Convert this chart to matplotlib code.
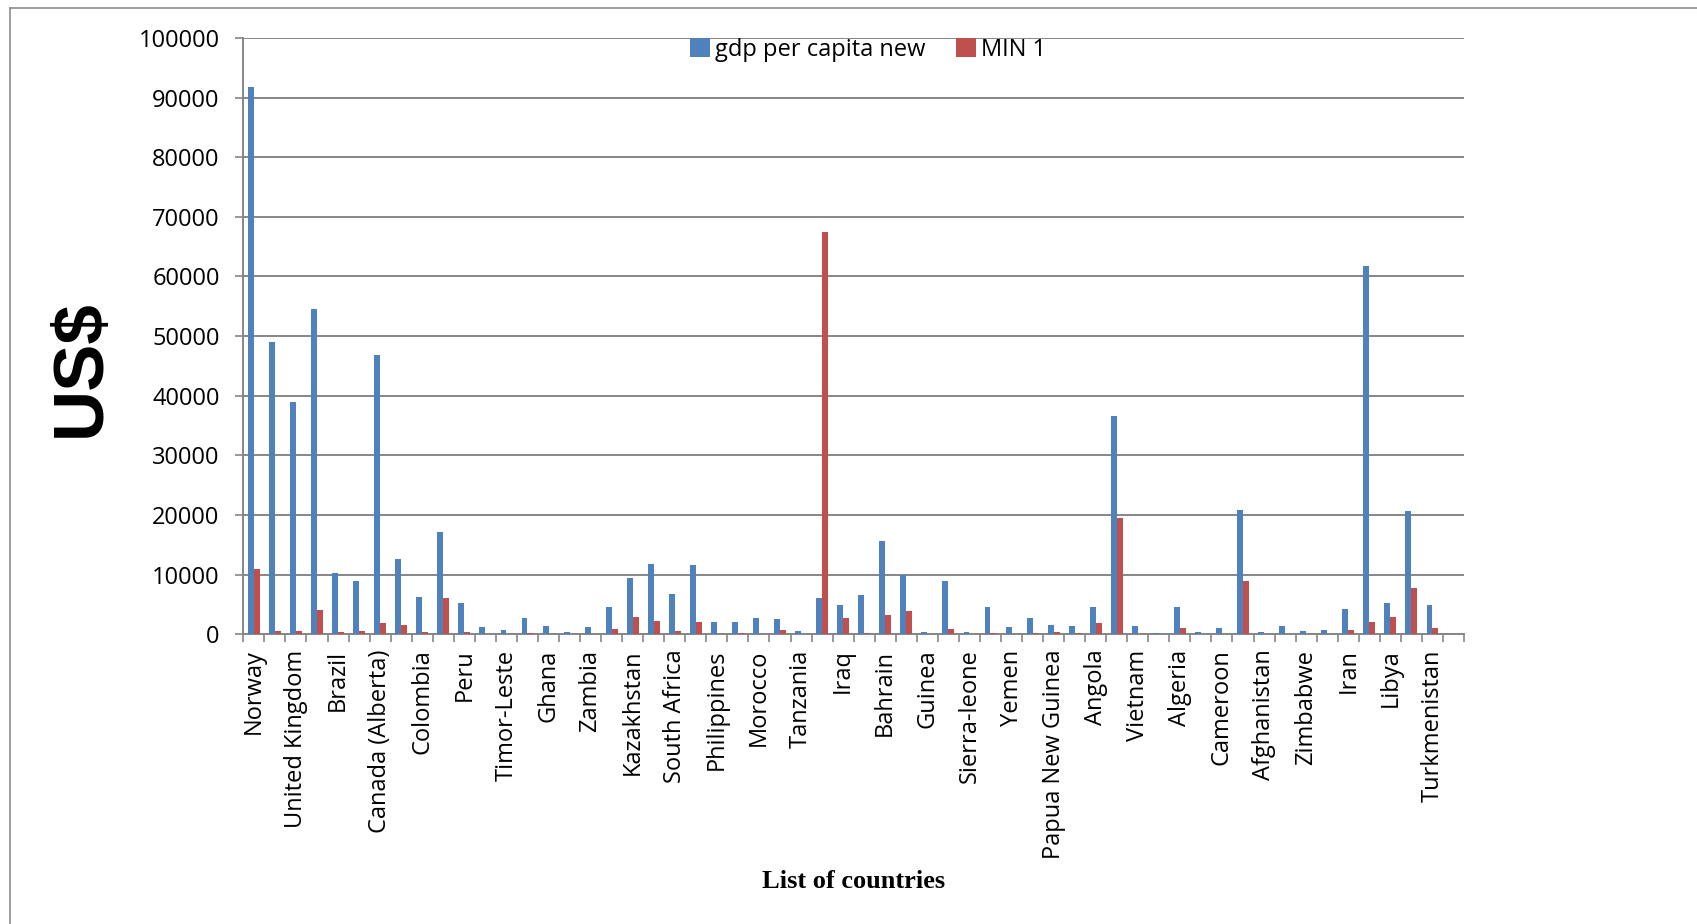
import numpy as np
import matplotlib
matplotlib.use("Agg")
import matplotlib.pyplot as plt
from matplotlib.lines import Line2D

# every other category carries a label on the axis
countries = [
    "Norway", "United Kingdom", "Brazil", "Canada (Alberta)", "Colombia",
    "Peru", "Timor-Leste", "Ghana", "Zambia", "Kazakhstan", "South Africa",
    "Philippines", "Morocco", "Tanzania", "Iraq", "Bahrain", "Guinea",
    "Sierra-leone", "Yemen", "Papua New Guinea", "Angola", "Vietnam",
    "Algeria", "Cameroon", "Afghanistan", "Zimbabwe", "Iran", "Libya",
    "Turkmenistan",
]

gdp_per_capita = [
    91700, 49000, 38900, 54600, 10300, 9000, 46800, 12600, 6200, 17200,
    5300, 1200, 700, 2800, 1300, 300, 1200, 4600, 9500, 11800,
    6700, 11600, 2000, 2000, 2800, 2500, 460, 6000, 4850, 6500,
    15700, 10000, 330, 8900, 400, 4500, 1200, 2700, 1500, 1300,
    4600, 36600, 1300, 150, 4600, 330, 1100, 20800, 400, 1400,
    460, 700, 4300, 61700, 5200, 20700, 4900, 0,
]

min_1 = [
    11000, 530, 460, 4000, 330, 460, 1800, 1600, 400, 6000,
    400, 0, 0, 130, 0, 0, 60, 800, 2900, 2300,
    460, 2000, 0, 260, 0, 660, 0, 67400, 2800, 130,
    3300, 3900, 0, 800, 0, 130, 100, 130, 330, 260,
    1800, 19500, 0, 0, 1000, 0, 0, 9000, 0, 0,
    0, 0, 730, 2000, 2900, 7800, 1100, 0,
]

blue = "#4F81BD"
red = "#C0504D"
grid_col = "#868686"
font = "Open Sans"
fs = 17

n = len(gdp_per_capita)
x = np.arange(n)
w = 0.28

fig = plt.figure(figsize=(16.97, 9.24), dpi=100)
ax = fig.add_axes([0.1434, 0.3136, 0.7193, 0.6454])

ax.bar(x - w / 2, gdp_per_capita, width=w, color=blue, label="gdp per capita new", zorder=3)
ax.bar(x + w / 2, min_1, width=w, color=red, label="MIN 1", zorder=3)

ax.set_xlim(-0.5, n - 0.5)
ax.set_ylim(0, 100000)
ax.set_yticks(np.arange(0, 100001, 10000))
ax.set_yticklabels([str(v) for v in range(0, 100001, 10000)], fontsize=fs, family=font)
ax.yaxis.grid(True, color=grid_col, linewidth=1.4, zorder=0)

# boundaries get tick marks, centres of even categories get the names
ax.set_xticks(np.arange(-0.5, n, 1.0))
ax.set_xticklabels([])
ax.set_xticks(np.arange(0, 2 * len(countries), 2), minor=True)
ax.set_xticklabels(countries, minor=True, rotation=90, fontsize=fs, family=font, va="top", ha="center")
ax.tick_params(axis="x", which="major", length=6, width=1.2, color=grid_col)
ax.tick_params(axis="x", which="minor", length=0, pad=11)
ax.tick_params(axis="y", length=6, width=1.2, color=grid_col, pad=11)

for side in ["top", "right"]:
    ax.spines[side].set_visible(False)
for side in ["left", "bottom"]:
    ax.spines[side].set_color(grid_col)
    ax.spines[side].set_linewidth(1.4)

ax.legend(
    loc="center",
    bbox_to_anchor=(868 / 1697, 1 - 50 / 924),
    bbox_transform=fig.transFigure,
    ncol=2,
    frameon=False,
    prop={"family": font, "size": fs},
    handlelength=0.85,
    handleheight=0.85,
    handletextpad=0.2,
    columnspacing=1.3,
)

fig.text(82 / 1697, 1 - 368 / 924, "US$", rotation=90, ha="center", va="center",
         fontsize=51, fontweight="bold", family="Liberation Sans")
fig.text(854 / 1697, 1 - 882 / 924, "List of countries", ha="center", va="center",
         fontsize=19, fontweight="bold", family="Liberation Serif")

# outer frame around the chart area
fig.add_artist(Line2D([10 / 1697, 10 / 1697], [0, 1 - 8 / 924], color="#8c8c8c", linewidth=1.2))
fig.add_artist(Line2D([10 / 1697, 1], [1 - 8 / 924, 1 - 8 / 924], color="#8c8c8c", linewidth=1.2))

fig.savefig("out.png", dpi=100)
